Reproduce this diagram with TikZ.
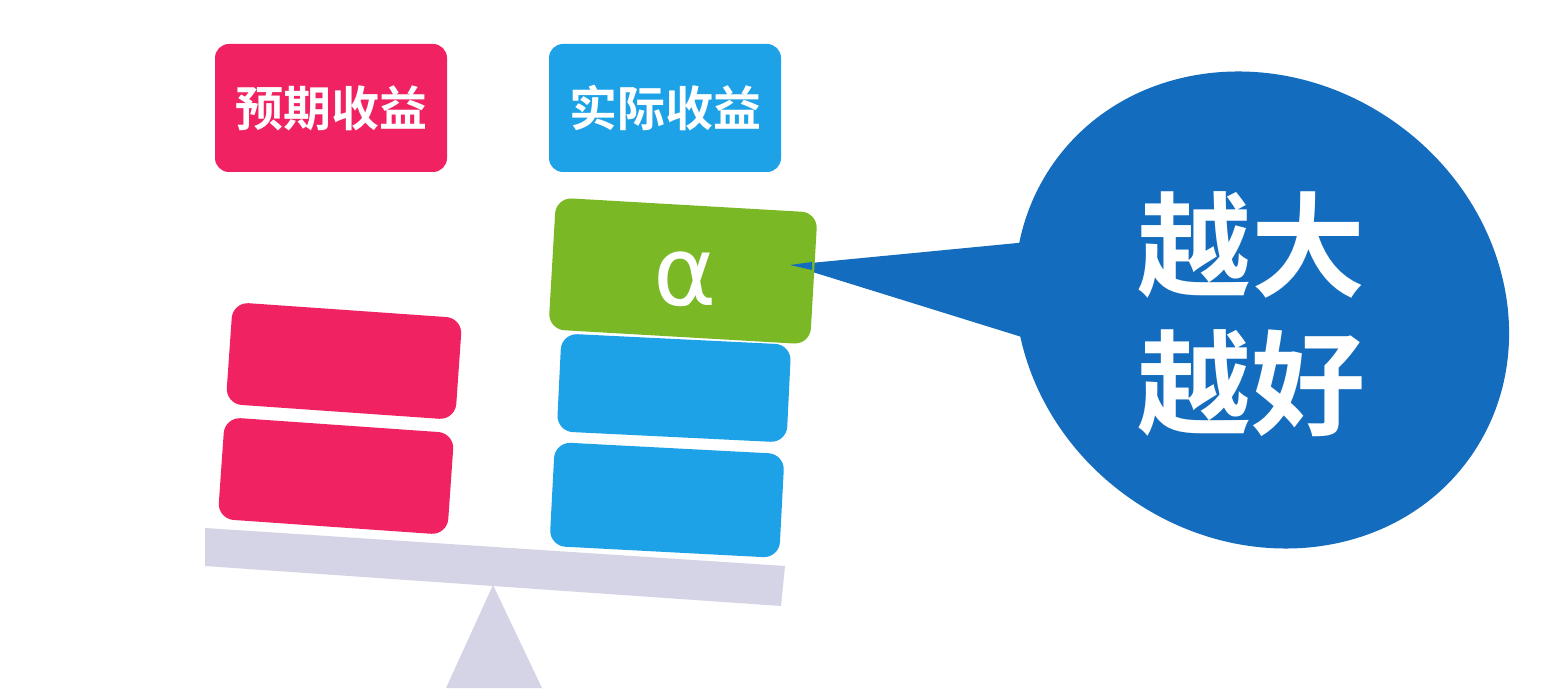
\documentclass[tikz,border=0pt]{standalone}
\usepackage{fontspec}
\newfontfamily\cjkb{Noto Sans CJK SC Bold}
\newfontfamily\alphafont{DejaVu Sans}
\usetikzlibrary{shapes.geometric}
\definecolor{cpink}{HTML}{F02262}
\definecolor{cblue}{HTML}{1DA2E8}
\definecolor{cgreen}{HTML}{7AB825}
\definecolor{cbubble}{HTML}{136CBE}
\definecolor{cbeam}{HTML}{D4D4E6}
\tikzset{
  label box/.style={rectangle, rounded corners=7pt, minimum width=116pt, minimum height=64pt, text=white, inner sep=0pt, font=\cjkb\fontsize{24}{24}\selectfont},
  block/.style={rectangle, rounded corners=8pt, minimum width=115pt, minimum height=51pt, inner sep=0pt},
}
\begin{document}
\begin{tikzpicture}[x=0.5pt,y=-0.5pt]
\fill[white] (0,0) rectangle (1568,694);
\useasboundingbox (0,0) rectangle (1568,694);
% labels
\node[label box, fill=cpink] (lab1) at (331,108) {预期收益};
\node[label box, fill=cblue] (lab2) at (665,108) {实际收益};
% fulcrum and beam
\fill[cbeam] (493,585) -- (542,688) -- (446,688) -- cycle;
\fill[cbeam] (205,528) -- (785,566) -- (781,606) -- (205,566) -- cycle;
% pink blocks
\node[block, fill=cpink, rotate=-4] (p1) at (344,361) {};
\node[block, fill=cpink, rotate=-4] (p2) at (336,476) {};
% blue blocks
\node[block, fill=cblue, rotate=-2.8, minimum height=49pt] (b1) at (674,388) {};
\node[block, fill=cblue, rotate=-3, minimum height=52pt] (b2) at (667,500) {};
% bubble
\node[ellipse, fill=cbubble, minimum width=255pt, minimum height=230pt, inner sep=0pt, rotate=-35] (bub) at (1262,310) {};
\coordinate (tip) at (790,265);
\fill[cbubble] (tip) -- (1090,236) -- (1070,352) -- cycle;
% green alpha block
\node[block, fill=cgreen, rotate=-3.3, minimum width=131pt, minimum height=66pt] (g) at (683,271) {};
\node[text=white, inner sep=0pt, font=\alphafont\fontsize{48}{48}\selectfont] (alpha) at (685,279) {α};
\fill[cbubble] (tip) -- (812,262) -- (812,270) -- cycle;
\node[text=white, align=center, font=\cjkb\fontsize{57}{69}\selectfont] (txt) at (1251,314) {越大\\越好};
\end{tikzpicture}
\end{document}
